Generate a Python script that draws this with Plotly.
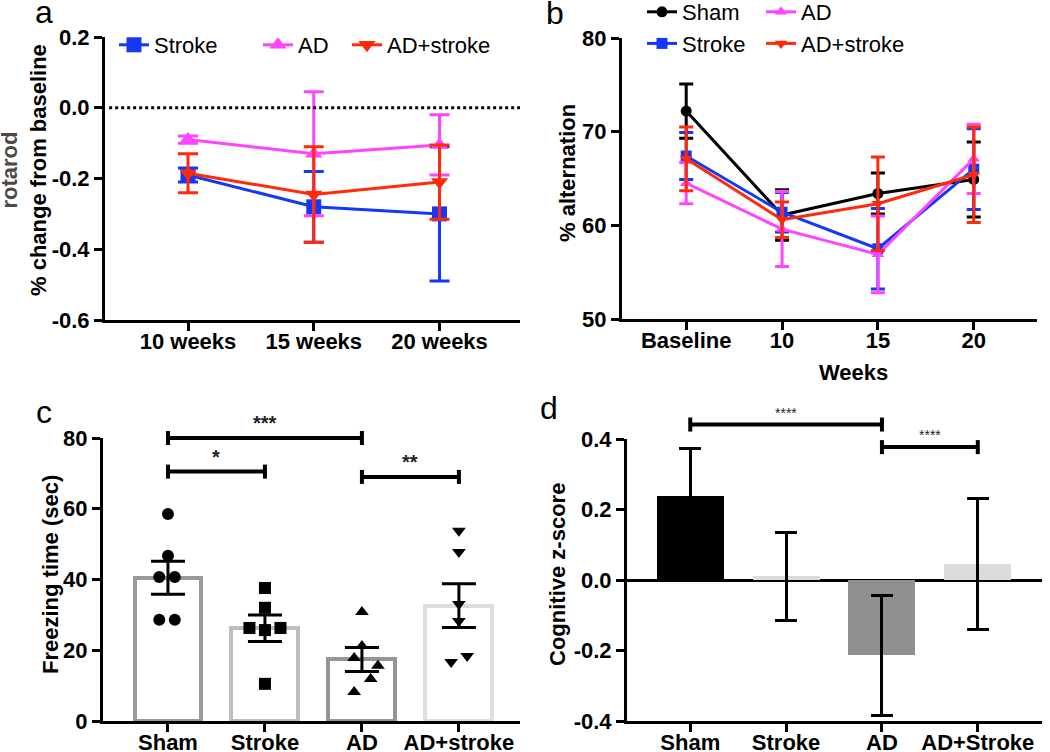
import plotly.graph_objects as go

W, H = 1050, 752
FONT = "Liberation Sans"

# ---- a: rotarod, % change from baseline
weeks_a = ["10 weeks", "15 weeks", "20 weeks"]
rot_stroke = [-0.19, -0.28, -0.30]
rot_stroke_sem = [0.02, 0.10, 0.19]
rot_ad = [-0.09, -0.13, -0.105]
rot_ad_sem = [0.01, 0.175, 0.085]
rot_adstroke = [-0.185, -0.245, -0.21]
rot_adstroke_sem = [0.055, 0.135, 0.105]
ticks_a = [0.2, 0.0, -0.2, -0.4, -0.6]
ticklabels_a = ["0.2", "0.0", "-0.2", "-0.4", "-0.6"]

# ---- b: % alternation
weeks_b = ["Baseline", "10", "15", "20"]
alt_sham = [72.2, 61.1, 63.4, 64.9]
alt_sham_sem = [2.9, 2.7, 2.2, 4.0]
alt_stroke = [67.4, 61.4, 57.5, 66.0]
alt_stroke_sem = [2.5, 2.1, 4.3, 4.3]
alt_ad = [64.5, 59.6, 56.9, 67.1]
alt_ad_sem = [2.2, 4.0, 4.1, 3.7]
alt_adstroke = [67.1, 60.6, 62.3, 65.4]
alt_adstroke_sem = [3.4, 1.9, 5.0, 5.1]
ticks_b = [50, 60, 70, 80]

# ---- c: freezing time
groups_c = ["Sham", "Stroke", "AD", "AD+stroke"]
freeze_mean = [40.5, 26.2, 17.4, 32.6]
freeze_sem = [4.65, 3.75, 3.4, 6.2]
freeze_sham = [58.5, 46.7, 40.7, 40.7, 28.6, 28.6]
freeze_stroke = [37.6, 32.0, 26.3, 25.7, 26.3, 10.5]
freeze_ad = [30.8, 21.2, 17.8, 15.6, 11.9, 8.2]
freeze_adstroke = [53.8, 47.8, 33.1, 28.3, 16.7, 18.4]
ticks_c = [0, 20, 40, 60, 80]
sig_c = [(0, 2, 80, "***"), (0, 1, 70.5, "*"), (2, 3, 69, "**")]

# horizontal scatter of the dots inside each bar
jit_sham = [0, 0, -0.09, 0.07, -0.09, 0.07]
jit_stroke = [0, 0, -0.16, 0, 0.16, 0]
jit_ad = [0, 0, -0.08, 0.165, 0.09, -0.08]
jit_adstroke = [0, 0, 0, 0, -0.08, 0.085]

# ---- d: cognitive z-score
groups_d = ["Sham", "Stroke", "AD", "AD+Stroke"]
zscore = [0.238, 0.01, -0.213, 0.045]
zscore_sem = [0.135, 0.124, 0.17, 0.185]
ticks_d = [0.4, 0.2, 0.0, -0.2, -0.4]
ticklabels_d = ["0.4", "0.2", "0.0", "-0.2", "-0.4"]
sig_d = [(0, 2, 0.441, "****"), (2, 3, 0.377, "****")]

BLUE, MAGENTA, RED = "#1438f5", "#ff44ff", "#ff2a0a"


def px(x):
    return x / W


def py(y):
    return 1 - y / H


# panel boxes in pixels: (left, right, top, bottom)
box_a = (105, 520, 37, 320)
box_b = (622, 1037, 38, 319)
box_c = (103, 520, 438, 721)
box_d = (627, 1042, 439, 721)
xr_a, yr_a = [-0.66, 2.64], [-0.6, 0.2]
xr_b, yr_b = [-0.67, 3.66], [50, 80]
xr_c, yr_c = [-0.67, 3.63], [0, 80]
xr_d, yr_d = [-0.66, 3.67], [-0.4, 0.4]

fig = go.Figure()

# a
for name, y, e, col, sym, leg in [
    ("Stroke", rot_stroke, rot_stroke_sem, BLUE, "square", "legend"),
    ("AD", rot_ad, rot_ad_sem, MAGENTA, "triangle-up", "legend2"),
    ("AD+stroke", rot_adstroke, rot_adstroke_sem, RED, "triangle-down", "legend3"),
]:
    fig.add_trace(go.Scatter(
        x=list(range(len(weeks_a))), y=y, name=name, mode="lines+markers",
        line=dict(color=col, width=3), marker=dict(symbol=sym, size=15, color=col),
        error_y=dict(type="data", array=e, color=col, thickness=3, width=10),
        xaxis="x", yaxis="y", legend=leg, cliponaxis=False))

# b
for name, y, e, col, sym, leg in [
    ("Sham", alt_sham, alt_sham_sem, "black", "circle", "legend4"),
    ("Stroke", alt_stroke, alt_stroke_sem, BLUE, "square", "legend4"),
    ("AD", alt_ad, alt_ad_sem, MAGENTA, "triangle-up", "legend5"),
    ("AD+stroke", alt_adstroke, alt_adstroke_sem, RED, "triangle-down", "legend5"),
]:
    fig.add_trace(go.Scatter(
        x=list(range(len(weeks_b))), y=y, name=name, mode="lines+markers",
        line=dict(color=col, width=3), marker=dict(symbol=sym, size=11, color=col),
        error_y=dict(type="data", array=e, color=col, thickness=3, width=7),
        xaxis="x2", yaxis="y2", legend=leg, cliponaxis=False))

# c
fig.add_trace(go.Bar(
    x=list(range(len(groups_c))), y=freeze_mean, width=0.69,
    marker=dict(color="white", line=dict(color=["#999999", "#bdbdbd", "#959595", "#dedede"], width=4)),
    error_y=dict(type="data", array=freeze_sem, color="black", thickness=3, width=17),
    xaxis="x3", yaxis="y3", showlegend=False))
for i, (vals, jit, sym) in enumerate([
    (freeze_sham, jit_sham, "circle"),
    (freeze_stroke, jit_stroke, "square"),
    (freeze_ad, jit_ad, "triangle-up"),
    (freeze_adstroke, jit_adstroke, "triangle-down"),
]):
    fig.add_trace(go.Scatter(
        x=[i + j for j in jit], y=vals, mode="markers",
        marker=dict(symbol=sym, size=12, color="black"),
        xaxis="x3", yaxis="y3", showlegend=False, cliponaxis=False))

# d
fig.add_trace(go.Bar(
    x=list(range(len(groups_d))), y=zscore, width=0.7,
    marker=dict(color=["black", "#dcdcdc", "#8f8f8f", "#dcdcdc"], line=dict(width=0)),
    error_y=dict(type="data", array=zscore_sem, color="black", thickness=3, width=11),
    xaxis="x4", yaxis="y4", showlegend=False))

tickfont = dict(family=FONT, size=22, color="black", weight="bold")


def xaxis(box, rng, labels, anchor):
    return dict(domain=[px(box[0]), px(box[1])], range=rng, anchor=anchor,
                tickvals=list(range(len(labels))), ticktext=labels,
                showline=True, linewidth=3, linecolor="black", ticks="outside",
                ticklen=8, tickwidth=3, tickcolor="black", showgrid=False,
                zeroline=False, tickfont=tickfont, fixedrange=True, automargin=False,
                ticklabelstandoff=-8)


def yaxis(box, rng, vals, labels, anchor, **kw):
    d = dict(domain=[py(box[3]), py(box[2])], range=rng, anchor=anchor,
             tickvals=vals, ticktext=labels,
             showline=True, linewidth=3, linecolor="black", ticks="outside",
             ticklen=8, tickwidth=3, tickcolor="black", showgrid=False,
             zeroline=False, tickfont=tickfont, fixedrange=True, automargin=False)
    d.update(kw)
    return d


legend_base = dict(bgcolor="rgba(0,0,0,0)", font=dict(family=FONT, size=22, color="black"),
                   itemwidth=30, tracegroupgap=0, xanchor="left", yanchor="middle")

fig.update_layout(
    width=W, height=H, margin=dict(l=0, r=0, t=0, b=0, pad=0, autoexpand=False),
    paper_bgcolor="white", plot_bgcolor="white",
    font=dict(family=FONT, color="black"), bargap=0,
    xaxis=xaxis(box_a, xr_a, weeks_a, "y"),
    yaxis=yaxis(box_a, yr_a, ticks_a, ticklabels_a, "x"),
    xaxis2=xaxis(box_b, xr_b, weeks_b, "y2"),
    yaxis2=yaxis(box_b, yr_b, ticks_b, [str(t) for t in ticks_b], "x2"),
    xaxis3=xaxis(box_c, xr_c, groups_c, "y3"),
    yaxis3=yaxis(box_c, yr_c, ticks_c, [str(t) for t in ticks_c], "x3"),
    xaxis4=xaxis(box_d, xr_d, groups_d, "y4"),
    yaxis4=yaxis(box_d, yr_d, ticks_d, ticklabels_d, "x4",
                 zeroline=True, zerolinecolor="black", zerolinewidth=3),
    legend=dict(legend_base, orientation="h", x=px(114), y=py(45)),
    legend2=dict(legend_base, orientation="h", x=px(258), y=py(45)),
    legend3=dict(legend_base, orientation="h", x=px(347), y=py(45)),
    legend4=dict(legend_base, orientation="v", x=px(642), y=py(28)),
    legend5=dict(legend_base, orientation="v", x=px(761), y=py(28)),
)

# dotted baseline in a
fig.add_shape(type="line", xref="x domain", yref="y", x0=0.01, x1=1, y0=0, y1=0,
              line=dict(color="black", width=3, dash="dot"))


def frac(v, rng):
    return (v - rng[0]) / (rng[1] - rng[0])


def add_brackets(comps, xn, yn, xr, yr, box, font_size, bold, gap):
    cap = 7 / (box[3] - box[2])
    for i, j, h, label in comps:
        x0, x1, yy = frac(i, xr), frac(j, xr), frac(h, yr)
        fig.add_shape(type="line", xref=xn + " domain", yref=yn + " domain",
                      x0=x0, x1=x1, y0=yy, y1=yy, line=dict(color="black", width=4))
        for xx in (x0, x1):
            fig.add_shape(type="line", xref=xn + " domain", yref=yn + " domain",
                          x0=xx, x1=xx, y0=yy - cap, y1=yy + cap,
                          line=dict(color="black", width=4))
        fig.add_annotation(xref=xn + " domain", yref=yn + " domain",
                           x=(x0 + x1) / 2, y=yy + gap / (box[3] - box[2]),
                           text=label, showarrow=False, xanchor="center", yanchor="bottom",
                           font=dict(family=FONT, size=font_size, color="#222",
                                     weight="bold" if bold else "normal"))


add_brackets(sig_c, "x3", "y3", xr_c, yr_c, box_c, 20, True, 2)
add_brackets(sig_d, "x4", "y4", xr_d, yr_d, box_d, 14, False, 2)

# panel letters and axis titles
for text, x, y in [("a", 44, 12), ("b", 555, 13), ("c", 44, 412), ("d", 549, 408)]:
    fig.add_annotation(xref="paper", yref="paper", x=px(x), y=py(y), text=text,
                       showarrow=False, xanchor="center", yanchor="middle",
                       font=dict(family=FONT, size=32, color="black"))

titles = [
    ("<span style='color:#4a4a4a'>rotarod</span><br>% change from baseline", 24, 170, -90),
    ("% alternation", 567, 173, -90),
    ("Weeks", 853, 372, 0),
    ("Freezing time (sec)", 50, 575, -90),
    ("Cognitive z-score", 557, 575, -90),
]
for text, x, y, ang in titles:
    fig.add_annotation(xref="paper", yref="paper", x=px(x), y=py(y), text=text,
                       showarrow=False, textangle=ang, xanchor="center", yanchor="middle",
                       font=dict(family=FONT, size=22, color="black", weight="bold"))

# drop the default page margin so the figure sits at the window's corner
fig.write_html("out.html", config={"displayModeBar": False},
               post_script="document.body.style.margin = '0px';")
